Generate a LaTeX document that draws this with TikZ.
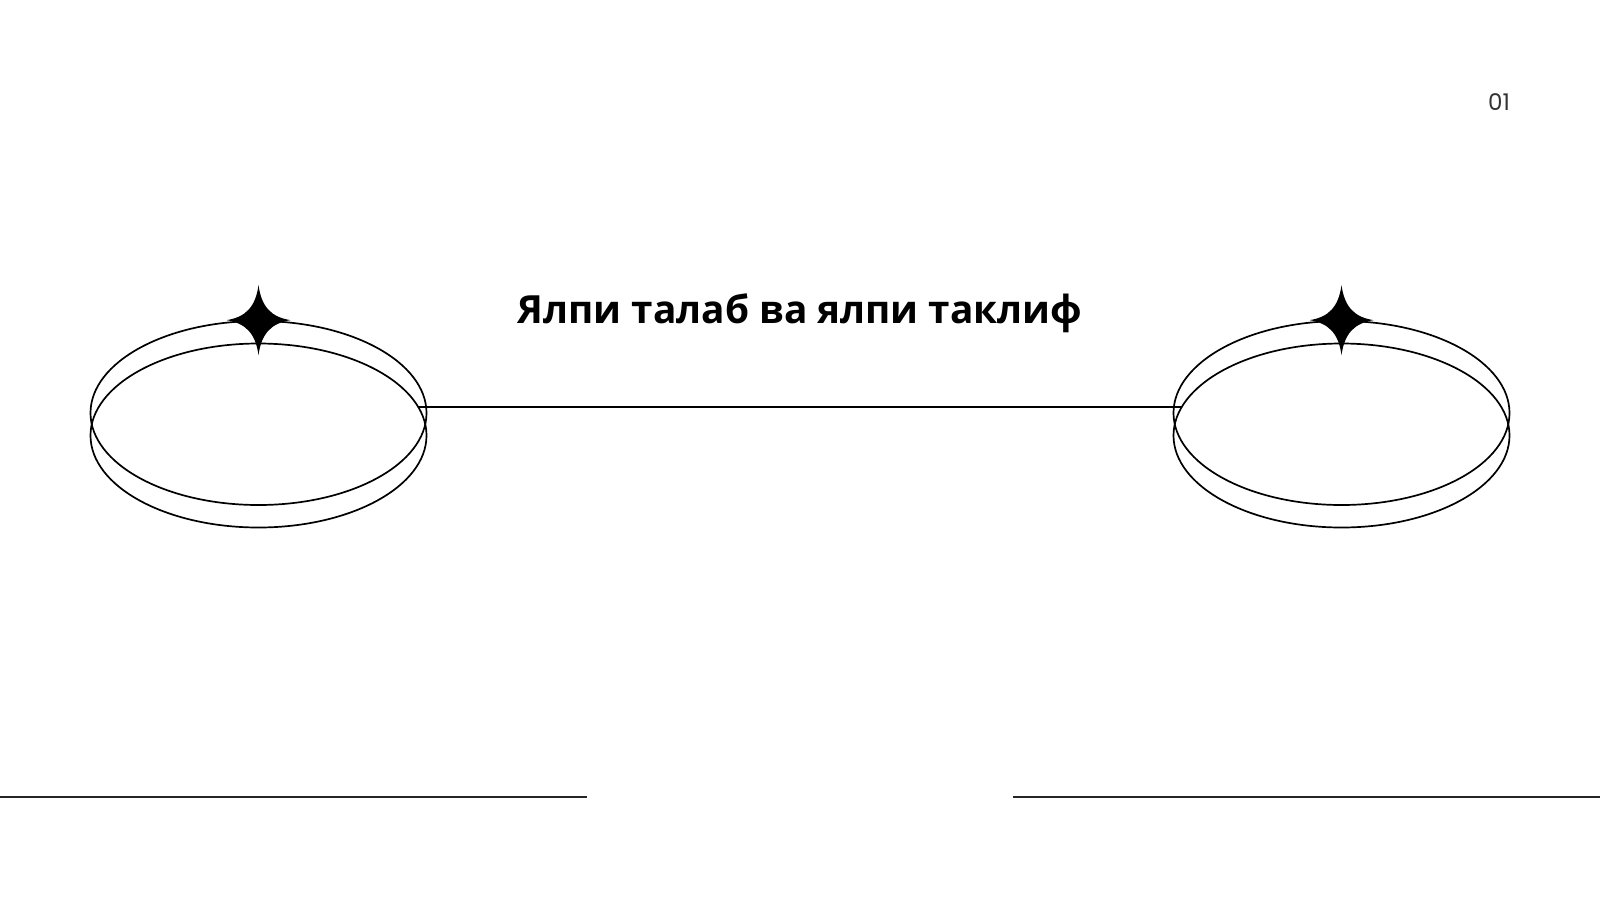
\documentclass[tikz,border=0pt]{standalone}
\usepackage{fontspec}
\setmainfont{Open Sans}
\newfontfamily\numfont{Poppins}
\usetikzlibrary{shapes.geometric}
\usetikzlibrary{calc}

\definecolor{numgray}{HTML}{333333}

\tikzset{
    ring/.style={draw, ellipse, minimum width=336pt, minimum height=184pt, inner sep=0pt, line width=1.7pt},
    rule/.style={line width=1.8pt, draw=black!85}
}

% four-pointed sparkle centred on a coordinate
\newcommand{\sparkle}[1]{%
    \fill[shift={(#1)}] (0,-35) .. controls (3,-13) and (13,-3) .. (32,0)
        .. controls (13,3) and (3,13) .. (0,35)
        .. controls (-3,13) and (-13,3) .. (-32,0)
        .. controls (-13,-3) and (-3,-13) .. cycle;}

\begin{document}
\begin{tikzpicture}[x=1pt, y=-1pt]
    \useasboundingbox (0,0) rectangle (1600,900);

    % Page number
    \node[font=\numfont\fontsize{23}{23}\selectfont, text=numgray] (pagenum) at (1499,102) {01};

    % Title
    \node[font=\bfseries\fontsize{38.8}{38.8}\selectfont, anchor=base] (title) at (800,323) {Ялпи талаб ва ялпи таклиф};

    % Left ring: two ellipses, one shifted down
    \node[ring] (ringLtop) at (258.5,413) {};
    \node[ring] (ringLbot) at (258.5,435.5) {};

    % Right ring
    \node[ring] (ringRtop) at (1341.5,413) {};
    \node[ring] (ringRbot) at (1341.5,435.5) {};

    % Sparkles on top of the rings
    \sparkle{ringLtop.north}
    \sparkle{ringRtop.north}

    % Connector between the rings
    \draw[line width=1.7pt] (ringLbot.10) -- (ringRbot.170);

    % Bottom rules
    \coordinate (ruleLa) at (0,797);
    \coordinate (ruleLb) at (587,797);
    \coordinate (ruleRa) at (1013,797);
    \coordinate (ruleRb) at (1600,797);
    \draw[rule] (ruleLa) -- (ruleLb);
    \draw[rule] (ruleRa) -- (ruleRb);
\end{tikzpicture}
\end{document}
